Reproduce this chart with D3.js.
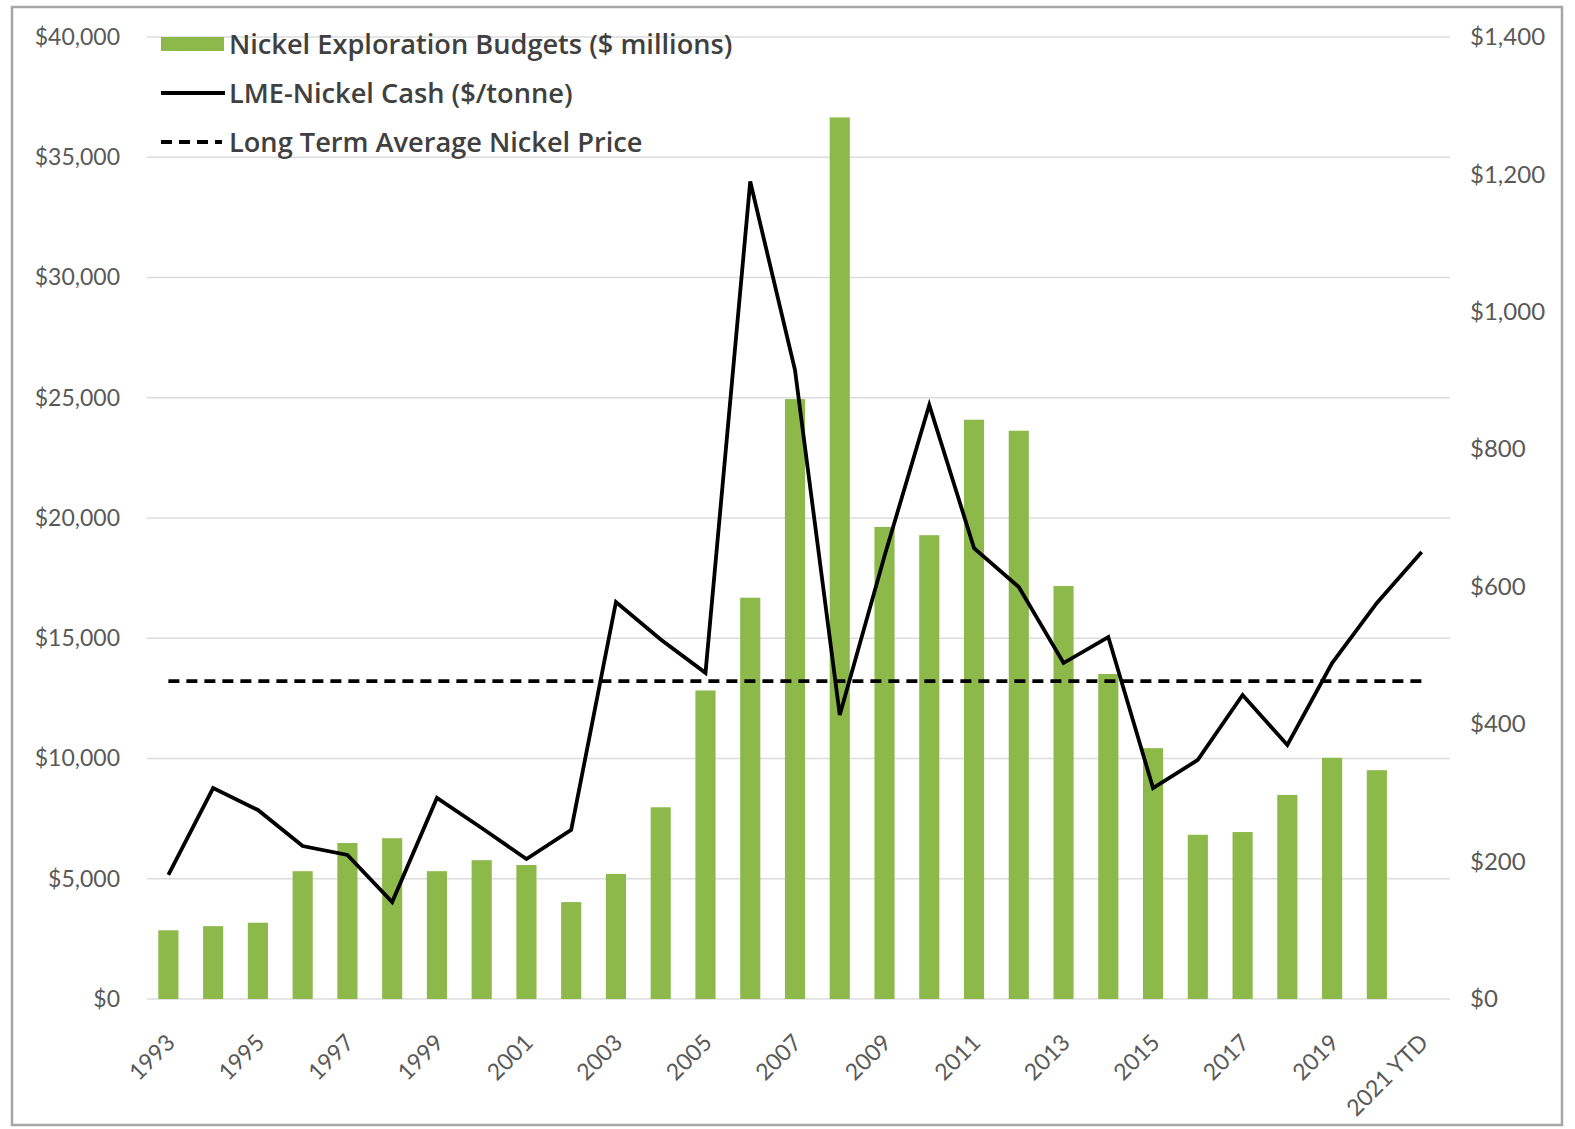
<!DOCTYPE html>
<html>
<head>
<meta charset="utf-8">
<script src="https://cdn.jsdelivr.net/npm/d3@7"></script>
<style>
  html, body { margin: 0; padding: 0; background: #ffffff; }
  svg { display: block; }
</style>
</head>
<body>
<script>
// ---- data ----
const categories = ["1993","1994","1995","1996","1997","1998","1999","2000","2001","2002",
  "2003","2004","2005","2006","2007","2008","2009","2010","2011","2012","2013","2014",
  "2015","2016","2017","2018","2019","2020","2021 YTD"];
const tickLabels = ["1993","1995","1997","1999","2001","2003","2005","2007","2009","2011",
  "2013","2015","2017","2019","2021 YTD"];
// Nickel exploration budgets ($ millions) - right axis
const budgets = [100,106,111,186,227,234,186,202,195,141,182,279,449,584,873,1283,687,675,
  843,827,601,473,365,239,243,297,351,333,null];
// LME nickel cash ($/tonne) - left axis
const nickelPrice = [5160,8770,7860,6360,5990,4030,8360,7110,5820,7030,16510,14950,13560,
  33990,26150,11810,18420,24700,18750,17130,13970,15050,8770,9940,12640,10560,13970,16470,18590];
const longTermAvg = 13220;
const leftTicks = [0,5000,10000,15000,20000,25000,30000,35000,40000];
const rightTicks = [0,200,400,600,800,1000,1200,1400];
const legendItems = ["Nickel Exploration Budgets ($ millions)", "LME-Nickel Cash ($/tonne)", "Long Term Average Nickel Price"];

// ---- layout ----
const W = 1575, H = 1129;
const plot = { left: 146, right: 1444, top: 37, bottom: 999 };
const green = "#8db94b";
const tickFont = "Lato, sans-serif";

const svg = d3.select("body").append("svg").attr("width", W).attr("height", H);
svg.append("rect").attr("width", W).attr("height", H).attr("fill", "#fff");
svg.append("rect").attr("x", 12).attr("y", 7).attr("width", 1550).attr("height", 1118)
  .attr("fill", "none").attr("stroke", "#a6a6a6").attr("stroke-width", 2.5);

const x = d3.scaleBand().domain(categories).range([plot.left, plot.right]).padding(0);
const yL = d3.scaleLinear().domain([0, 40000]).range([plot.bottom, plot.top]);
const yR = d3.scaleLinear().domain([0, 1400]).range([plot.bottom, plot.top]);
const cx = d => x(d) + x.bandwidth() / 2;

// gridlines
svg.append("g").selectAll("line").data(leftTicks).join("line")
  .attr("x1", 147).attr("x2", 1450)
  .attr("y1", d => yL(d)).attr("y2", d => yL(d))
  .attr("stroke", "#dcdcdc").attr("stroke-width", 1.6);

// left axis
const axL = d3.axisLeft(yL).tickValues(leftTicks).tickSize(0).tickPadding(0)
  .tickFormat(d => "$" + d3.format(",")(d));
const gL = svg.append("g").attr("transform", "translate(120,0)").call(axL);
gL.select(".domain").remove();
gL.selectAll("text").attr("font-size", 23).attr("fill", "#595959")
  .style("font-family", tickFont);

// right axis
const axR = d3.axisRight(yR).tickValues(rightTicks).tickSize(0).tickPadding(0)
  .tickFormat(d => "$" + d3.format(",")(d));
const gR = svg.append("g").attr("transform", "translate(1470,0)").call(axR);
gR.select(".domain").remove();
gR.selectAll("text").attr("font-size", 24).attr("fill", "#595959")
  .style("font-family", tickFont);

// bars
const bw = x.bandwidth() * 0.45;
svg.append("g").selectAll("rect")
  .data(categories.map((c, i) => ({ c, v: budgets[i] })).filter(d => d.v != null))
  .join("rect")
  .attr("x", d => cx(d.c) - bw / 2).attr("width", bw)
  .attr("y", d => yR(d.v)).attr("height", d => yR(0) - yR(d.v))
  .attr("fill", green);

// long term average (dashed)
const avgLine = d3.line().x(d => cx(d)).y(() => yL(longTermAvg));
svg.append("path").datum(categories).attr("d", avgLine)
  .attr("fill", "none").attr("stroke", "#000").attr("stroke-width", 3.8)
  .attr("stroke-dasharray", "11,7");

// price line
const line = d3.line().x((d, i) => cx(categories[i])).y(d => yL(d));
svg.append("path").datum(nickelPrice).attr("d", line)
  .attr("fill", "none").attr("stroke", "#000").attr("stroke-width", 3.8)
  .attr("stroke-linejoin", "miter");

// x axis labels
const axB = d3.axisBottom(x).tickValues(tickLabels).tickSize(0).tickPadding(0);
const gB = svg.append("g").attr("transform", `translate(0,${plot.bottom})`).call(axB);
gB.select(".domain").remove();
gB.selectAll("text")
  .attr("font-size", 23).attr("fill", "#595959").style("font-family", tickFont)
  .attr("text-anchor", "end").attr("dy", null).attr("y", 0)
  .attr("transform", "translate(8,45) rotate(-45)");

// legend
const lg = svg.append("g");
const rowY = [44, 93, 142];
lg.append("rect").attr("x", 161).attr("y", rowY[0] - 7).attr("width", 63).attr("height", 14).attr("fill", green);
lg.append("line").attr("x1", 161).attr("x2", 225).attr("y1", rowY[1]).attr("y2", rowY[1])
  .attr("stroke", "#000").attr("stroke-width", 3.8);
lg.append("line").attr("x1", 161).attr("x2", 222).attr("y1", rowY[2]).attr("y2", rowY[2])
  .attr("stroke", "#000").attr("stroke-width", 3.8).attr("stroke-dasharray", "11,7");
lg.selectAll("text").data(legendItems).join("text")
  .attr("x", 229).attr("y", (d, i) => rowY[i]).attr("dy", "0.36em")
  .attr("font-size", 27.2).attr("font-weight", 600).attr("fill", "#404040")
  .style("font-family", "'Open Sans', sans-serif")
  .text(d => d);
</script>
</body>
</html>
